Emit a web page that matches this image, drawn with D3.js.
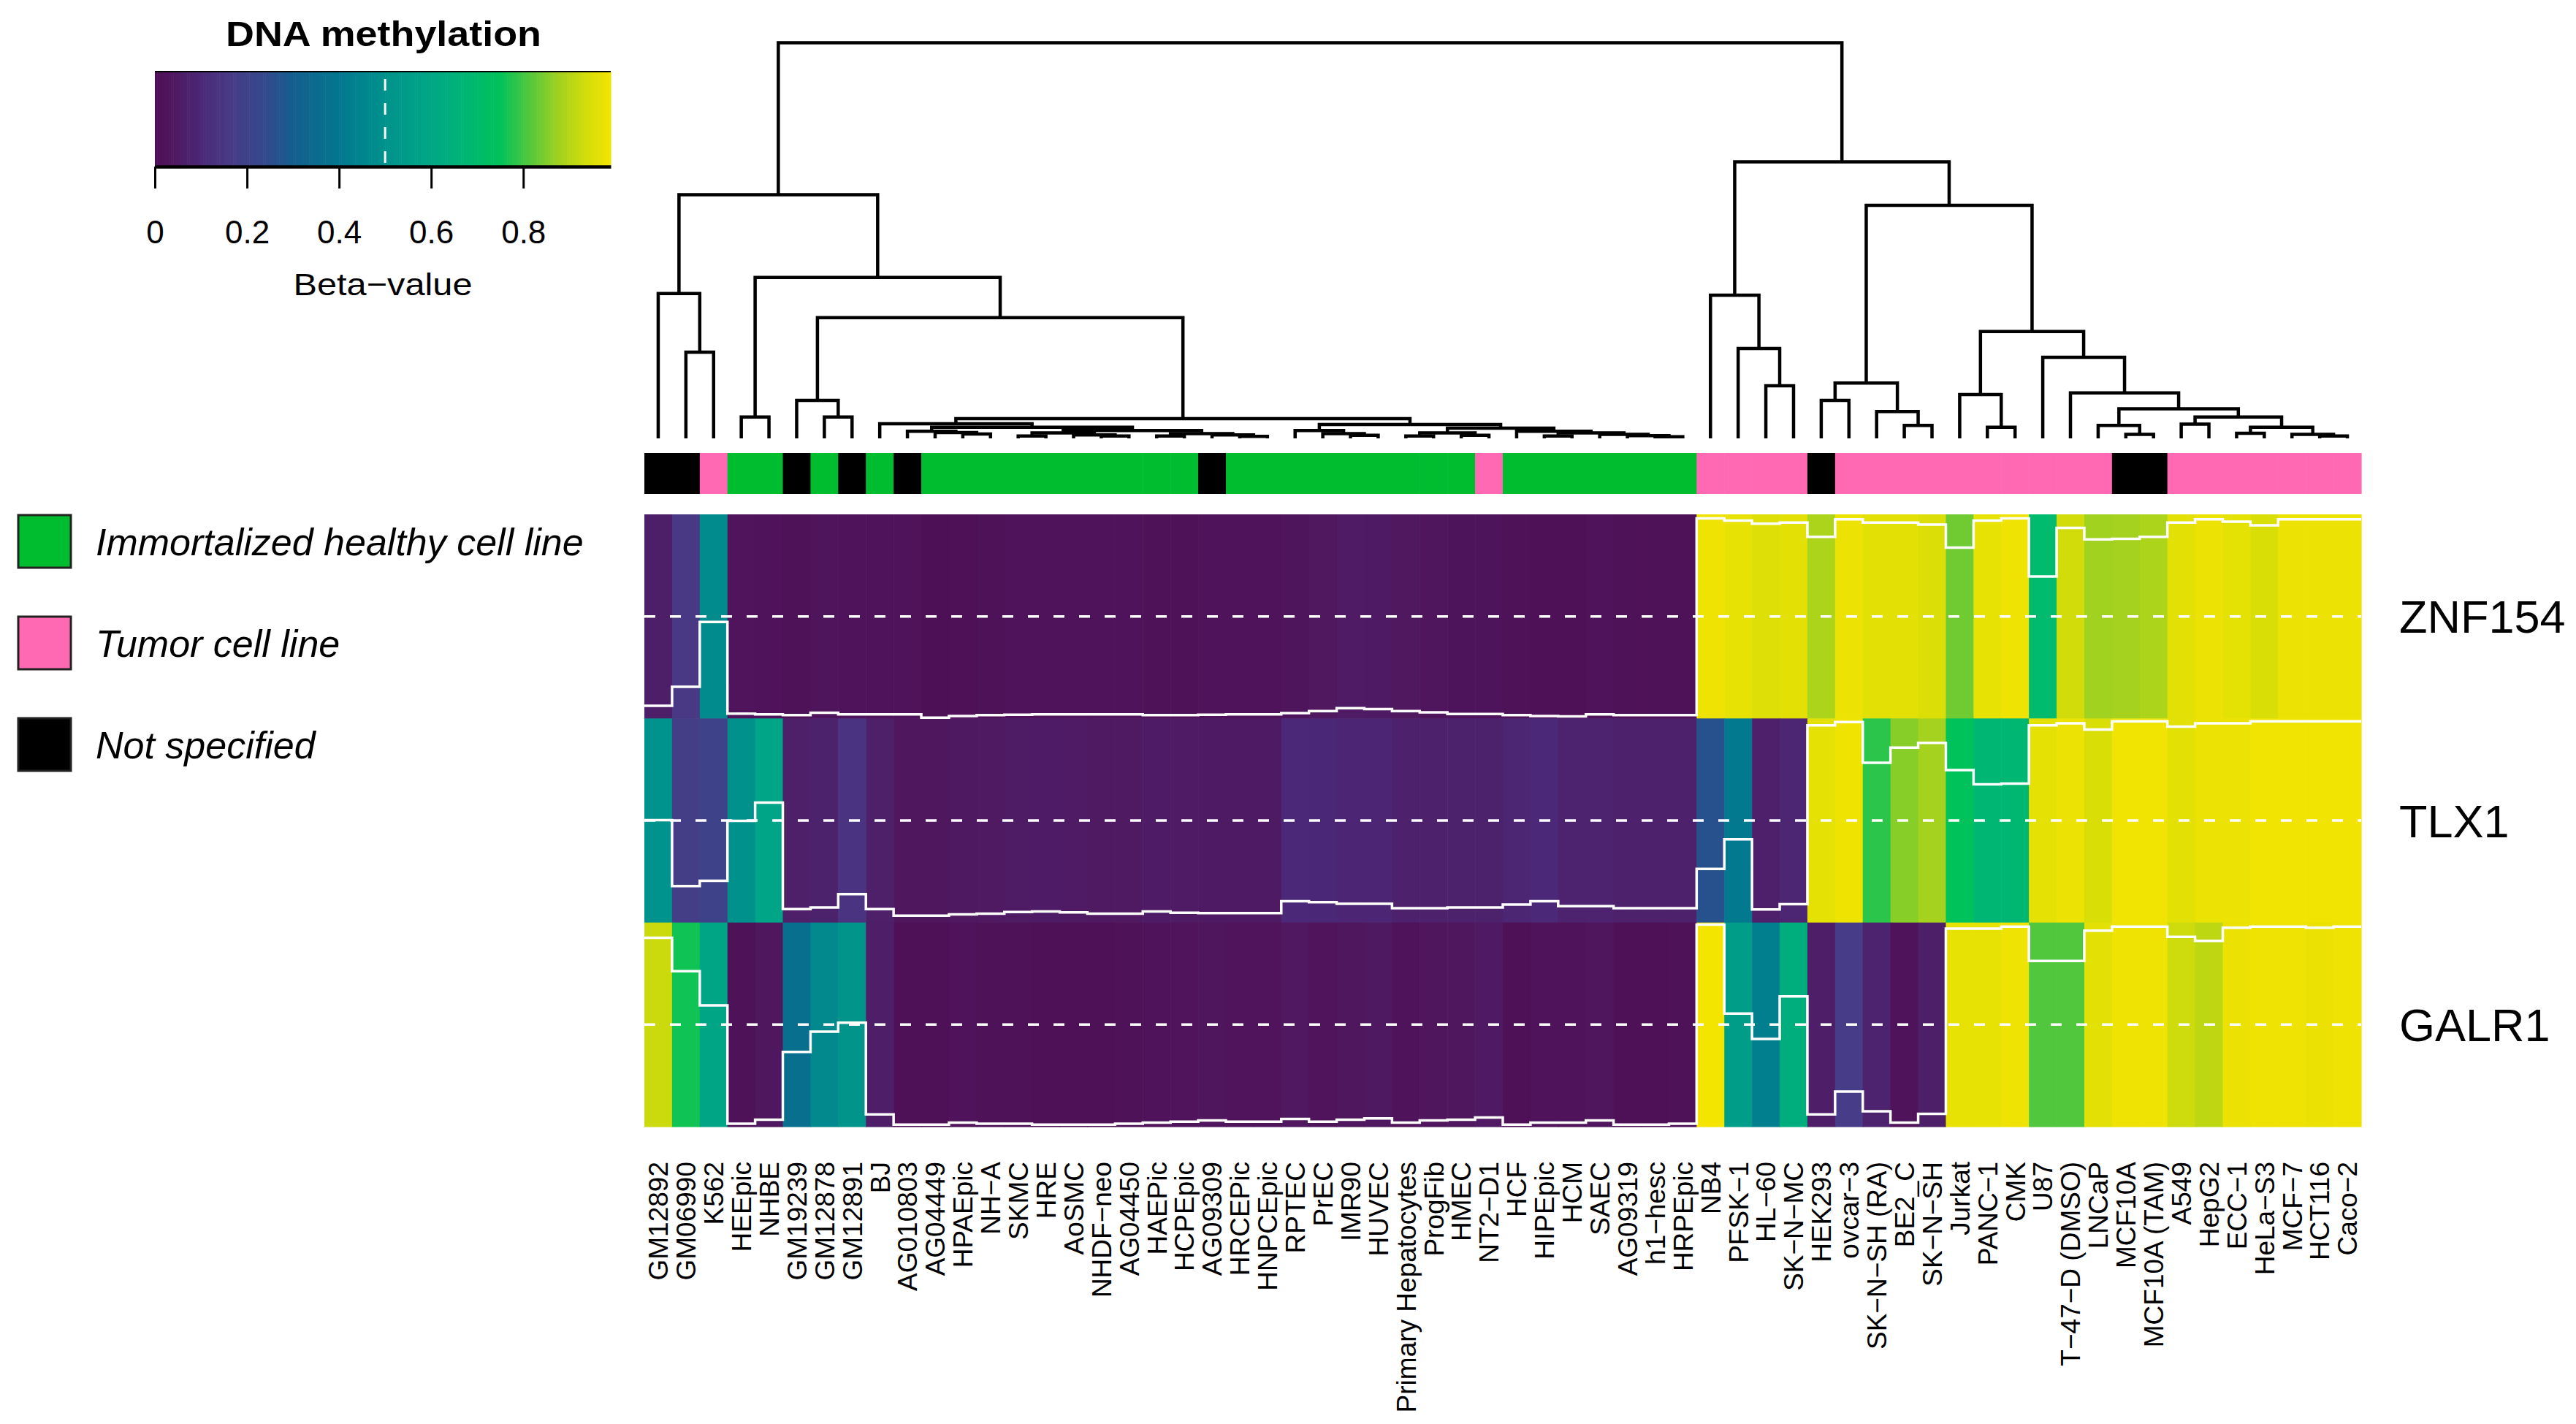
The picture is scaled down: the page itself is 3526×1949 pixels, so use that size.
<!DOCTYPE html>
<html>
<head>
<meta charset="utf-8">
<script src="https://cdn.jsdelivr.net/npm/d3@7"></script>
<style>
  body { margin: 0; background: #fff; }
  text { font-family: "Liberation Sans", Arial, Helvetica, sans-serif; fill: #000; }
</style>
</head>
<body>
<svg id="chart" width="3526" height="1949"></svg>
<script>
// ---- data (columns in dendrogram order) ----
const cellLines = [
  "GM12892", "GM06990", "K562", "HEEpic", "NHBE", "GM19239", "GM12878", "GM12891", "BJ",
  "AG010803", "AG04449", "HPAEpic", "NH−A", "SKMC", "HRE", "AoSMC", "NHDF−neo", "AG04450",
  "HAEPic", "HCPEpic", "AG09309", "HRCEPic", "HNPCEpic", "RPTEC", "PrEC", "IMR90", "HUVEC",
  "Primary Hepatocytes", "ProgFib", "HMEC", "NT2−D1", "HCF", "HIPEpic", "HCM", "SAEC",
  "AG09319", "h1−hesc", "HRPEpic", "NB4", "PFSK−1", "HL−60", "SK−N−MC", "HEK293", "ovcar−3",
  "SK−N−SH (RA)", "BE2_C", "SK−N−SH", "Jurkat", "PANC−1", "CMK", "U87", "T−47−D (DMSO)",
  "LNCaP", "MCF10A", "MCF10A (TAM)", "A549", "HepG2", "ECC−1", "HeLa−S3", "MCF−7", "HCT116", "Caco−2"
];

// H = immortalized healthy, T = tumor, N = not specified
const cellType = [
  "N", "N", "T", "H", "H", "N", "H", "N", "H", "N",
  "H", "H", "H", "H", "H", "H", "H", "H", "H", "H",
  "N", "H", "H", "H", "H", "H", "H", "H", "H", "H",
  "T", "H", "H", "H", "H", "H", "H", "H", "T", "T",
  "T", "T", "N", "T", "T", "T", "T", "T", "T", "T",
  "T", "T", "T", "N", "N", "T", "T", "T", "T", "T",
  "T", "T"
];

const genes = ["ZNF154", "TLX1", "GALR1"];

const znf154 = [
  0.062, 0.155, 0.473, 0.024, 0.020, 0.016, 0.028, 0.020, 0.020, 0.020,
  0.004, 0.012, 0.016, 0.018, 0.020, 0.020, 0.020, 0.020, 0.016, 0.016,
  0.018, 0.020, 0.020, 0.026, 0.036, 0.050, 0.046, 0.036, 0.030, 0.022,
  0.022, 0.016, 0.012, 0.010, 0.020, 0.016, 0.016, 0.016, 0.980, 0.970,
  0.954, 0.960, 0.890, 0.976, 0.960, 0.960, 0.950, 0.837, 0.970, 0.980,
  0.696, 0.934, 0.877, 0.880, 0.890, 0.960, 0.976, 0.964, 0.946, 0.976,
  0.976, 0.976
];

const tlx1 = [
  0.502, 0.179, 0.205, 0.498, 0.588, 0.066, 0.074, 0.139, 0.066, 0.034,
  0.034, 0.040, 0.044, 0.052, 0.054, 0.050, 0.044, 0.044, 0.054, 0.048,
  0.046, 0.046, 0.046, 0.104, 0.100, 0.092, 0.092, 0.070, 0.070, 0.074,
  0.074, 0.088, 0.104, 0.080, 0.080, 0.070, 0.070, 0.070, 0.263, 0.408,
  0.064, 0.090, 0.966, 0.982, 0.783, 0.857, 0.880, 0.747, 0.677, 0.681,
  0.966, 0.976, 0.946, 0.986, 0.986, 0.960, 0.976, 0.976, 0.986, 0.986,
  0.986, 0.986
];

const galr1 = [
  0.925, 0.762, 0.594, 0.014, 0.034, 0.366, 0.465, 0.509, 0.060, 0.010,
  0.010, 0.020, 0.014, 0.014, 0.010, 0.010, 0.010, 0.014, 0.020, 0.024,
  0.030, 0.024, 0.024, 0.038, 0.024, 0.034, 0.040, 0.020, 0.030, 0.034,
  0.045, 0.010, 0.020, 0.020, 0.030, 0.010, 0.010, 0.014, 0.990, 0.554,
  0.430, 0.638, 0.060, 0.172, 0.075, 0.020, 0.063, 0.970, 0.970, 0.980,
  0.812, 0.812, 0.960, 0.980, 0.980, 0.930, 0.910, 0.975, 0.980, 0.980,
  0.975, 0.980
];

// hclust-style merges: negative = leaf (column index + 1), positive = earlier merge row; height (root = 1)
const dendroMerges = [
  [-2, -3, 0.218], [-1, 1, 0.366], [-4, -5, 0.054], [-7, -8, 0.054], [-6, 4, 0.096],
  [-12, -13, 0.011], [-11, 6, 0.015], [-10, 7, 0.018], [-14, -15, 0.006], [-17, -18, 0.006],
  [-16, 10, 0.009], [9, 11, 0.014], [-19, -20, 0.006], [-22, -23, 0.005], [-21, 14, 0.009],
  [13, 15, 0.012], [12, 16, 0.020], [8, 17, 0.028], [-9, 18, 0.037], [-26, -27, 0.008],
  [-25, 20, 0.012], [-24, 21, 0.020], [-28, -29, 0.006], [-30, -31, 0.008], [23, 24, 0.014],
  [-37, -38, 0.004], [-36, 26, 0.007], [-35, 27, 0.010], [-33, -34, 0.006], [29, 28, 0.014],
  [-32, 30, 0.018], [25, 31, 0.026], [22, 32, 0.035], [19, 33, 0.050], [5, 34, 0.305],
  [3, 35, 0.407], [2, 36, 0.616],
  [-41, -42, 0.133], [-40, 38, 0.227], [-39, 39, 0.362], [-43, -44, 0.096], [-46, -47, 0.033],
  [-45, 42, 0.068], [41, 43, 0.140], [-49, -50, 0.028], [-48, 45, 0.111], [-54, -55, 0.010],
  [-53, 47, 0.033], [-56, -57, 0.036], [-58, -59, 0.013], [-61, -62, 0.006], [-60, 51, 0.010],
  [50, 52, 0.028], [49, 53, 0.054], [48, 54, 0.075], [-52, 55, 0.115], [-51, 56, 0.205],
  [46, 57, 0.270], [44, 58, 0.589], [40, 59, 0.699], [37, 60, 1.000]
];

const keyTicks = [0, 0.2, 0.4, 0.6, 0.8];
const keyMax = 0.99;
const typeCodes = ["H", "T", "N"];
const typeLabels = ["Immortalized healthy cell line", "Tumor cell line", "Not specified"];
const typeColors = ["#00bd2f", "#ff69b4", "#000000"];

// colour ramp
const rampStops = [0, 0.03, 0.06, 0.10, 0.16, 0.24, 0.30, 0.40, 0.50, 0.60, 0.68, 0.75, 0.82, 0.88, 0.94, 1];
const rampColors = ["#4d0e55", "#4f165d", "#4e1e68", "#4b2877", "#493a86", "#33498c", "#145e8e", "#03778f",
  "#00928c", "#00a686", "#00b772", "#00c25a", "#5cc83a", "#a4d21e", "#d6dd08", "#fae600"];

// ---- layout ----
const heat = { left: 882, right: 3232, top: 704, bottom: 1542 };
const sideBar = { top: 620, bottom: 676 };
const dendro = { base: 600, top: 58.6 };

const svg = d3.select("#chart");
const values = { ZNF154: znf154, TLX1: tlx1, GALR1: galr1 };

const x = d3.scaleBand(cellLines, [heat.left, heat.right]);
const y = d3.scaleBand(genes, [heat.top, heat.bottom]);
const color = d3.scaleLinear(rampStops, rampColors).interpolate(d3.interpolateRgb).clamp(true);
const typeColor = d3.scaleOrdinal(typeCodes, typeColors);
const hScale = d3.scaleLinear([0, 1], [dendro.base, dendro.top]);

// ---- heatmap cells ----
const cells = genes.flatMap(g => cellLines.map((c, i) => ({ gene: g, line: c, v: values[g][i] })));
svg.append("g")
  .selectAll("rect")
  .data(cells)
  .join("rect")
  .attr("x", d => x(d.line))
  .attr("y", d => y(d.gene))
  .attr("width", x.bandwidth() + 0.6)
  .attr("height", y.bandwidth() + 0.6)
  .attr("fill", d => color(d.v));

// ---- row traces and mid lines ----
const traceG = svg.append("g");
genes.forEach(g => {
  const rowY = d3.scaleLinear([0, 1], [y(g) + y.bandwidth(), y(g)]);
  const pts = cellLines.map((c, i) => [x(c), values[g][i]]);
  pts.push([heat.right, values[g][cellLines.length - 1]]);
  traceG.append("line")
    .attr("x1", heat.left).attr("x2", heat.right)
    .attr("y1", rowY(0.5)).attr("y2", rowY(0.5))
    .attr("stroke", "#fff")
    .attr("stroke-width", 3.5)
    .attr("stroke-dasharray", "15,20");
  traceG.append("path")
    .attr("d", d3.line().x(p => p[0]).y(p => rowY(p[1])).curve(d3.curveStepAfter)(pts))
    .attr("fill", "none")
    .attr("stroke", "#fff")
    .attr("stroke-width", 3.5);
});

// ---- column side colours ----
svg.append("g")
  .selectAll("rect")
  .data(cellLines)
  .join("rect")
  .attr("x", d => x(d))
  .attr("y", sideBar.top)
  .attr("width", x.bandwidth() + 0.6)
  .attr("height", sideBar.bottom - sideBar.top)
  .attr("fill", (d, i) => typeColor(cellType[i]));

// ---- column dendrogram ----
function buildTree(merges) {
  const nodes = [];
  const ref = k => (k < 0 ? { leaf: -k - 1, height: 0 } : nodes[k - 1]);
  merges.forEach(([a, b, h]) => nodes.push({ height: h, children: [ref(a), ref(b)] }));
  return nodes[nodes.length - 1];
}
const root = d3.hierarchy(buildTree(dendroMerges));
root.eachAfter(d => {
  d.px = d.children ? d3.mean(d.children, c => c.px) : x(cellLines[d.data.leaf]) + x.bandwidth() / 2;
});
svg.append("g")
  .selectAll("path")
  .data(root.descendants().filter(d => d.children))
  .join("path")
  .attr("d", d => {
    const [a, b] = d.children;
    return `M${a.px},${hScale(a.data.height)}V${hScale(d.data.height)}H${b.px}V${hScale(b.data.height)}`;
  })
  .attr("fill", "none")
  .attr("stroke", "#000")
  .attr("stroke-width", 4.5);

// ---- column labels ----
svg.append("g")
  .selectAll("text")
  .data(cellLines)
  .join("text")
  .attr("transform", d => `translate(${x(d) + x.bandwidth() / 2},1590) rotate(-90)`)
  .attr("dy", "0.36em")
  .attr("text-anchor", "end")
  .attr("font-size", 37)
  .text(d => d);

// ---- row labels ----
svg.append("g")
  .selectAll("text")
  .data(genes)
  .join("text")
  .attr("x", heat.right + 52)
  .attr("y", d => y(d) + y.bandwidth() / 2)
  .attr("dy", "0.36em")
  .attr("font-size", 63)
  .text(d => d);

// ---- colour key ----
const keyX = d3.scaleLinear([0, keyMax], [212, 836]);
const key = { top: 98, bottom: 228 };
const keyG = svg.append("g");
const step = 0.005;
keyG.selectAll("rect")
  .data(d3.range(0, keyMax, step))
  .join("rect")
  .attr("x", d => keyX(d))
  .attr("y", key.top)
  .attr("width", d => keyX(Math.min(d + step, keyMax)) - keyX(d) + 0.6)
  .attr("height", key.bottom - key.top)
  .attr("fill", d => color(d + step / 2));
keyG.append("line")
  .attr("x1", keyX(0)).attr("x2", keyX(keyMax))
  .attr("y1", key.top).attr("y2", key.top)
  .attr("stroke", "#000").attr("stroke-width", 2);
keyG.append("line")
  .attr("x1", keyX(0.5)).attr("x2", keyX(0.5))
  .attr("y1", key.top + 10).attr("y2", key.bottom)
  .attr("stroke", "#fff").attr("stroke-width", 3)
  .attr("stroke-dasharray", "16,17");
const keyAxis = svg.append("g")
  .attr("transform", `translate(0,${key.bottom})`)
  .call(d3.axisBottom(keyX)
    .tickValues(keyTicks)
    .tickSize(30)
    .tickSizeOuter(0)
    .tickPadding(44)
    .tickFormat(d => (d === 0 ? "0" : d3.format(".1f")(d))));
keyAxis.select(".domain").attr("stroke-width", 4.5);
keyAxis.selectAll(".tick line").attr("stroke-width", 3);
keyAxis.selectAll(".tick text")
  .attr("font-size", 44)
  .attr("font-family", "'Liberation Sans', Arial, sans-serif");

svg.append("text")
  .attr("x", 525).attr("y", 63)
  .attr("text-anchor", "middle")
  .attr("font-size", 48)
  .attr("font-weight", "bold")
  .attr("textLength", 432)
  .attr("lengthAdjust", "spacingAndGlyphs")
  .text("DNA methylation");
svg.append("text")
  .attr("x", 524).attr("y", 404)
  .attr("text-anchor", "middle")
  .attr("font-size", 43)
  .attr("textLength", 245)
  .attr("lengthAdjust", "spacingAndGlyphs")
  .text("Beta−value");

// ---- cell type legend ----
const legendY = d3.scalePoint(typeCodes, [705, 983]);
const legend = svg.append("g")
  .selectAll("g")
  .data(typeCodes)
  .join("g")
  .attr("transform", d => `translate(25,${legendY(d)})`);
legend.append("rect")
  .attr("width", 72)
  .attr("height", 72)
  .attr("fill", d => typeColor(d))
  .attr("stroke", "#222")
  .attr("stroke-width", 3);
legend.append("text")
  .attr("x", 106)
  .attr("y", 36)
  .attr("dy", "0.36em")
  .attr("font-size", 52)
  .attr("font-style", "italic")
  .text((d, i) => typeLabels[i]);
</script>
</body>
</html>
